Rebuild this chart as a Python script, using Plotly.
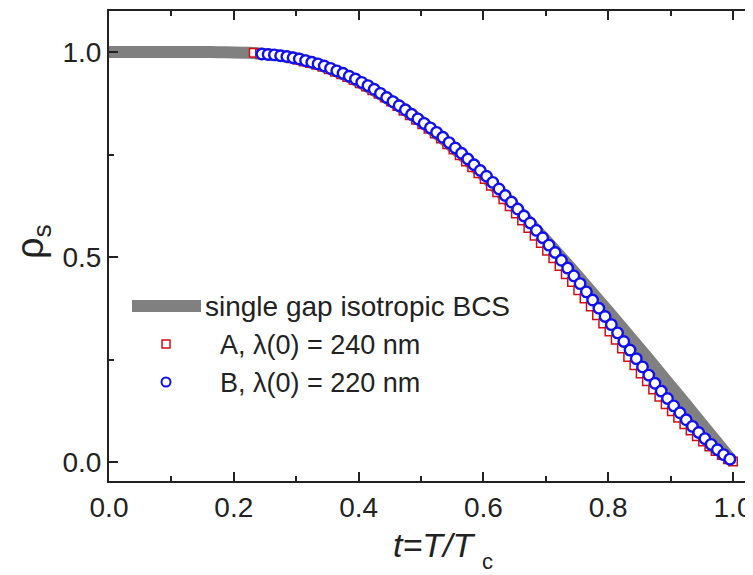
import plotly.graph_objects as go

# ---------------- data ----------------
t_bcs = [0.0, 0.025, 0.05, 0.075, 0.1, 0.125, 0.15, 0.175, 0.2, 0.225, 0.25, 0.275,
         0.3, 0.325, 0.35, 0.375, 0.4, 0.425, 0.45, 0.475, 0.5, 0.525, 0.55, 0.575,
         0.6, 0.625, 0.65, 0.675, 0.7, 0.725, 0.75, 0.775, 0.8, 0.825, 0.85, 0.875,
         0.9, 0.925, 0.95, 0.975, 1.0]
rho_bcs = [1.0, 1.0, 1.0, 1.0, 1.0, 1.0, 1.0, 0.9995, 0.999, 0.998, 0.995, 0.991,
           0.985, 0.975, 0.962, 0.946, 0.927, 0.906, 0.883, 0.858, 0.831, 0.801, 0.769, 0.735,
           0.699, 0.661, 0.622, 0.582, 0.541, 0.499, 0.456, 0.412, 0.368, 0.323, 0.278, 0.232,
           0.186, 0.140, 0.093, 0.047, 0.0]

t_A = [0.232, 0.242, 0.252, 0.262, 0.272, 0.282, 0.292, 0.302, 0.312, 0.322, 0.332, 0.342,
       0.352, 0.362, 0.372, 0.382, 0.392, 0.402, 0.412, 0.422, 0.432, 0.442, 0.452, 0.462,
       0.472, 0.482, 0.492, 0.502, 0.512, 0.522, 0.532, 0.542, 0.552, 0.562, 0.572, 0.582,
       0.592, 0.602, 0.612, 0.622, 0.632, 0.642, 0.652, 0.662, 0.672, 0.682, 0.692, 0.702,
       0.712, 0.722, 0.732, 0.742, 0.752, 0.762, 0.772, 0.782, 0.792, 0.802, 0.812, 0.822,
       0.832, 0.842, 0.852, 0.862, 0.872, 0.882, 0.892, 0.902, 0.912, 0.922, 0.932, 0.942,
       0.952, 0.962, 0.972, 0.982, 0.992, 1.000]
rho_A = [0.998, 0.996, 0.994, 0.992, 0.990, 0.988, 0.985, 0.981, 0.977, 0.973, 0.969, 0.964,
         0.958, 0.952, 0.946, 0.939, 0.932, 0.924, 0.916, 0.907, 0.898, 0.889, 0.879, 0.868,
         0.857, 0.846, 0.835, 0.824, 0.813, 0.801, 0.789, 0.775, 0.762, 0.748, 0.733, 0.719,
         0.704, 0.690, 0.674, 0.658, 0.641, 0.624, 0.606, 0.589, 0.571, 0.552, 0.534, 0.515,
         0.497, 0.478, 0.458, 0.439, 0.419, 0.399, 0.379, 0.358, 0.338, 0.318, 0.298, 0.277,
         0.256, 0.236, 0.216, 0.197, 0.177, 0.159, 0.141, 0.124, 0.108, 0.092, 0.077, 0.063,
         0.050, 0.038, 0.027, 0.017, 0.007, 0.001]

t_B = [0.245, 0.255, 0.265, 0.275, 0.285, 0.295, 0.305, 0.315, 0.325, 0.335, 0.345, 0.355,
       0.365, 0.375, 0.385, 0.395, 0.405, 0.415, 0.425, 0.435, 0.445, 0.455, 0.465, 0.475,
       0.485, 0.495, 0.505, 0.515, 0.525, 0.535, 0.545, 0.555, 0.565, 0.575, 0.585, 0.595,
       0.605, 0.615, 0.625, 0.635, 0.645, 0.655, 0.665, 0.675, 0.685, 0.695, 0.705, 0.715,
       0.725, 0.735, 0.745, 0.755, 0.765, 0.775, 0.785, 0.795, 0.805, 0.815, 0.825, 0.835,
       0.845, 0.855, 0.865, 0.875, 0.885, 0.895, 0.905, 0.915, 0.925, 0.935, 0.945, 0.955,
       0.965, 0.975, 0.985, 0.995]
rho_B = [0.995, 0.994, 0.993, 0.991, 0.989, 0.986, 0.983, 0.979, 0.975, 0.971, 0.966, 0.960,
         0.954, 0.948, 0.941, 0.934, 0.926, 0.918, 0.909, 0.899, 0.889, 0.879, 0.869, 0.859,
         0.848, 0.837, 0.826, 0.815, 0.804, 0.792, 0.779, 0.766, 0.753, 0.739, 0.725, 0.711,
         0.697, 0.682, 0.666, 0.650, 0.634, 0.617, 0.600, 0.583, 0.565, 0.547, 0.529, 0.511,
         0.492, 0.473, 0.454, 0.435, 0.415, 0.395, 0.375, 0.355, 0.335, 0.315, 0.294, 0.273,
         0.252, 0.232, 0.212, 0.192, 0.173, 0.155, 0.137, 0.120, 0.103, 0.087, 0.072, 0.057,
         0.043, 0.030, 0.018, 0.007]

x_ticks = [0.0, 0.2, 0.4, 0.6, 0.8, 1.0]
y_ticks = [0.0, 0.5, 1.0]
names = ["single gap isotropic BCS", "A, λ(0) = 240 nm", "B, λ(0) = 220 nm"]

# ---------------- figure ----------------
FONT = "Liberation Sans, Arial, Helvetica, sans-serif"
GRAY = "#808080"
RED = "#d01010"
BLUE = "#1010f0"
AX = "#222222"

fig = go.Figure()
# gray curve on the base subplot, markers on the overlaying (top) axis so they sit above it
fig.add_trace(go.Scatter(x=t_bcs, y=rho_bcs, mode="lines", name=names[0],
                         line=dict(color=GRAY, width=12, shape="spline", smoothing=0.6),
                         showlegend=False))
fig.add_trace(go.Scatter(x=t_A, y=rho_A, mode="markers", name=names[1], showlegend=False,
                         xaxis="x2",
                         marker=dict(symbol="square", size=8.5, color="white",
                                     line=dict(color=RED, width=1.5))))
fig.add_trace(go.Scatter(x=t_B, y=rho_B, mode="markers", name=names[2], showlegend=False,
                         xaxis="x2",
                         marker=dict(symbol="circle", size=10.5, color="white",
                                     line=dict(color=BLUE, width=2.4))))

# page has an 8px body margin: figure drawn at (8, 8) in the 753x575 window
OFF = 8
W, H = 753 - OFF, 575 - OFF
L, R, T, B = 109 - OFF, 0, 11 - OFF, 575 - 481
pw, ph = W - L - R, H - T - B

def px(xp):
    return (xp - OFF - L) / pw

def py(yp):
    return (H - B - (yp - OFF)) / ph

axis_common = dict(showline=True, linecolor=AX, linewidth=2, ticks="inside",
                   tickcolor=AX, tickwidth=2, ticklen=9, showgrid=False, zeroline=False,
                   mirror=False, automargin=False)

fig.update_layout(
    width=W, height=H,
    margin=dict(l=L, r=R, t=T, b=B, pad=0, autoexpand=False),
    paper_bgcolor="white", plot_bgcolor="white",
    font=dict(family=FONT, color=AX, size=28),
    xaxis=dict(range=[0, pw / 624.0], tickvals=x_ticks, tickformat=".1f",
               ticklabelstandoff=0,
               minor=dict(dtick=0.1, tick0=0, ticks="inside", ticklen=5, tickwidth=2, tickcolor=AX),
               **axis_common),
    xaxis2=dict(matches="x", overlaying="x", side="top", showticklabels=False,
                tickvals=x_ticks,
                minor=dict(dtick=0.1, tick0=0, ticks="inside", ticklen=5, tickwidth=2, tickcolor=AX),
                **axis_common),
    yaxis=dict(range=[-(481 - 462) / 410.0, 1 + (52 - 11) / 410.0], tickvals=y_ticks,
               tickformat=".1f", ticklabelstandoff=0,
               minor=dict(dtick=0.25, tick0=0, ticks="inside", ticklen=5, tickwidth=2, tickcolor=AX),
               **axis_common),
)

# ---------------- legend and axis titles (placed to match the layout) ----------------
shapes = [
    dict(type="line", xref="paper", yref="paper", x0=px(132), x1=px(201), y0=py(306), y1=py(306),
         line=dict(color=GRAY, width=12)),
    dict(type="rect", xref="paper", yref="paper", xsizemode="pixel", ysizemode="pixel",
         xanchor=px(166), yanchor=py(344), x0=-4, x1=4, y0=-4, y1=4,
         line=dict(color=RED, width=1.5), fillcolor="white"),
    dict(type="circle", xref="paper", yref="paper", xsizemode="pixel", ysizemode="pixel",
         xanchor=px(166), yanchor=py(382), x0=-4.5, x1=4.5, y0=-4.5, y1=4.5,
         line=dict(color=BLUE, width=2), fillcolor="white"),
]
ann = [
    dict(text=names[0], x=px(203), y=py(306), size=28),
    dict(text=names[1], x=px(218), y=py(345), size=27),
    dict(text=names[2], x=px(218), y=py(383), size=27),
]
for a in ann:
    s = a.pop("size")
    a.update(xref="paper", yref="paper", xanchor="left", yanchor="middle", showarrow=False,
             font=dict(size=s, family=FONT, color=AX))

ann.append(dict(text="<i>t=T/T</i>", x=px(434), y=py(545), xref="paper", yref="paper",
                xanchor="center", yanchor="middle", showarrow=False,
                font=dict(size=34, family=FONT, color=AX)))
ann.append(dict(text="c", x=px(480), y=py(561), xref="paper", yref="paper",
                xanchor="left", yanchor="middle", showarrow=False,
                font=dict(size=22, family=FONT, color=AX)))
ann.append(dict(text="ρ<sub>s</sub>", x=px(33), y=py(242), xref="paper", yref="paper",
                xanchor="center", yanchor="middle", showarrow=False, textangle=-90,
                font=dict(size=38, family=FONT, color=AX)))
fig.update_layout(shapes=shapes, annotations=ann)

fig.write_html("out.html")
